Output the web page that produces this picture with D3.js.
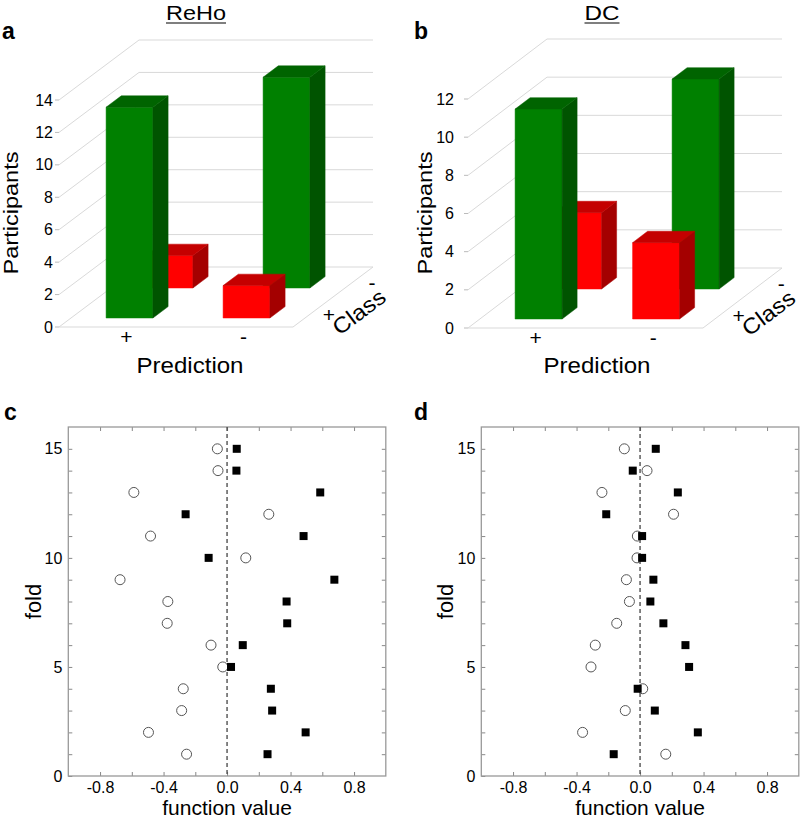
<!DOCTYPE html>
<html>
<head>
<meta charset="utf-8">
<script src="https://cdn.jsdelivr.net/npm/d3@7"></script>
<style>
  body { margin: 0; background: #fff; }
  svg { font-family: "Liberation Sans", Arial, sans-serif; }
</style>
</head>
<body>
<svg id="drawing_region" width="800" height="821"></svg>
<script>
// ---- data ----
const predictionLabels = ['+', '-'];
const classLabels = ['+', '-'];
// participants per prediction (+, -) for each true class
const rehoClassPos = [13, 2];
const rehoClassNeg = [2, 13];
const dcClassPos = [11, 4];
const dcClassNeg = [4, 11];
const rehoTicks = [0, 2, 4, 6, 8, 10, 12, 14];
const dcTicks = [0, 2, 4, 6, 8, 10, 12];

const folds = [1, 2, 3, 4, 5, 6, 7, 8, 9, 10, 11, 12, 13, 14, 15];
const rehoCircle = [-0.255, -0.495, -0.286, -0.276, -0.027, -0.101, -0.377, -0.373, -0.674, 0.118, -0.482, 0.263, -0.587, -0.057, -0.061];
const rehoSquare = [0.255, 0.495, 0.284, 0.276, 0.025, 0.099, 0.379, 0.375, 0.676, -0.116, 0.482, -0.261, 0.587, 0.059, 0.061];
const dcCircle = [0.162, -0.362, -0.093, 0.017, -0.309, -0.282, -0.147, -0.067, -0.086, -0.019, -0.017, 0.211, -0.240, 0.044, -0.099];
const dcSquare = [-0.166, 0.364, 0.093, -0.015, 0.309, 0.286, 0.147, 0.065, 0.084, 0.013, 0.013, -0.213, 0.238, -0.046, 0.099];
const xTickValues = [-0.8, -0.6, -0.4, -0.2, 0, 0.2, 0.4, 0.6, 0.8];
const xTickLabels = [-0.8, -0.4, 0, 0.4, 0.8];
const yTickValues = [1, 2, 3, 4, 5, 6, 7, 8, 9, 10, 11, 12, 13, 14, 15];
const yTickLabels = [0, 5, 10, 15];

const svg = d3.select('#drawing_region');

class Bar3D {
    constructor(config, rows) {
        this.config = config;
        this.rows = rows;   // rows[classIndex][predictionIndex]
        this.init();
        this.render();
    }

    init() {
        let self = this;
        let c = self.config;
        self.g = svg.append('g');
        self.xs = d3.scaleLinear().domain([0, 2]).range([c.left, c.left + c.width]);
        self.ys = d3.scaleLinear().domain([0, c.yMax]).range([c.bottom, c.top]);
        self.ds = d3.scaleLinear().domain([0, 2]).range([0, 1]);
        self.proj = (u, d, v) => [self.xs(u) + self.ds(d) * c.dx, self.ys(v) + self.ds(d) * c.dy];
    }

    render() {
        let self = this;
        let c = self.config;
        let p = self.proj;
        let grid = self.g.append('g').attr('stroke', '#d9d9d9').attr('stroke-width', 1).attr('fill', 'none');

        c.ticks.forEach(t => {
            grid.append('polyline')
                .attr('points', [p(0, 0, t), p(0, 2, t), p(2, 2, t)].map(q => q.join(',')).join(' '));
        });
        grid.append('polyline')
            .attr('points', [p(0, 0, 0), p(2, 0, 0), p(2, 2, 0)].map(q => q.join(',')).join(' '));

        // tick marks + labels
        self.g.selectAll('.tk').data(c.ticks).enter().append('line')
            .attr('x1', self.xs(0) - 4).attr('x2', self.xs(0))
            .attr('y1', d => self.ys(d)).attr('y2', d => self.ys(d))
            .attr('stroke', '#bbb');
        self.g.selectAll('.tl').data(c.ticks).enter().append('text')
            .attr('x', self.xs(0) - c.labelGap)
            .attr('y', d => self.ys(d))
            .attr('dy', '0.35em')
            .attr('text-anchor', 'end')
            .attr('font-size', 16)
            .text(d => d);

        // bars: back row first
        let faces = [];
        [1, 0].forEach(j => {
            [0, 1].forEach(i => {
                let v = self.rows[j][i];
                let u0 = i + 0.3, u1 = i + 0.7, d0 = j + 0.3, d1 = j + 0.68;
                let col = (i === j) ? c.green : c.red;
                faces.push({ pts: [p(u0, d0, 0), p(u1, d0, 0), p(u1, d0, v), p(u0, d0, v)], fill: col[0] });
                faces.push({ pts: [p(u1, d0, 0), p(u1, d1, 0), p(u1, d1, v), p(u1, d0, v)], fill: col[1] });
                faces.push({ pts: [p(u0, d0, v), p(u1, d0, v), p(u1, d1, v), p(u0, d1, v)], fill: col[2] });
            });
        });
        self.g.selectAll('.face').data(faces).enter().append('polygon')
            .attr('points', d => d.pts.map(q => q.join(',')).join(' '))
            .attr('fill', d => d.fill)
            .attr('stroke', d => d.fill)
            .attr('stroke-width', 0.5);

        // prediction labels
        predictionLabels.forEach((lab, i) => {
            self.g.append('text')
                .attr('x', self.xs(i + 0.5) + 9).attr('y', c.bottom + 17)
                .attr('text-anchor', 'middle').attr('font-size', 21)
                .text(lab);
        });
        // class labels
        classLabels.forEach((lab, j) => {
            let q = p(2, j + 0.5, 0);
            self.g.append('text')
                .attr('x', q[0] + 16 + j * 3).attr('y', q[1] + 10 - j * 2)
                .attr('text-anchor', 'middle').attr('font-size', 21)
                .text(lab);
        });
        let qc = p(2, 1, 0);
        self.g.append('text')
            .attr('transform', `translate(${qc[0] + 26},${qc[1] + 15}) rotate(-37)`)
            .attr('text-anchor', 'middle').attr('dominant-baseline', 'central')
            .attr('font-size', 22)
            .attr('textLength', 60).attr('lengthAdjust', 'spacingAndGlyphs')
            .text('Class');

        self.g.append('text')
            .attr('x', c.predX).attr('y', 373)
            .attr('text-anchor', 'middle').attr('font-size', 22)
            .attr('textLength', 107).attr('lengthAdjust', 'spacingAndGlyphs')
            .text('Prediction');
        self.g.append('text')
            .attr('transform', `translate(${c.partX},213) rotate(-90)`)
            .attr('text-anchor', 'middle')
            .attr('font-size', 21)
            .attr('textLength', 123).attr('lengthAdjust', 'spacingAndGlyphs')
            .text('Participants');

        self.g.append('text')
            .attr('x', c.titleX).attr('y', 20)
            .attr('text-anchor', 'middle').attr('font-size', 21)
            .attr('textLength', c.titleLen).attr('lengthAdjust', 'spacingAndGlyphs')
            .text(c.title);
        self.g.append('line')
            .attr('x1', c.titleX - c.titleLen / 2).attr('x2', c.titleX + c.titleLen / 2)
            .attr('y1', 23).attr('y2', 23)
            .attr('stroke', '#000').attr('stroke-width', 1.2);
        self.g.append('text')
            .attr('x', c.letterX).attr('y', 39)
            .attr('font-size', 23).attr('font-weight', 'bold')
            .text(c.letter);
    }
}

class FoldPlot {
    constructor(config, circles, squares) {
        this.config = config;
        this.circles = circles;
        this.squares = squares;
        this.init();
        this.render();
    }

    init() {
        let self = this;
        let c = self.config;
        self.g = svg.append('g');
        self.xs = d3.scaleLinear().domain([-1, 1]).range([c.left, c.right]);
        self.ys = d3.scaleLinear().domain([0, 16]).range([c.bottom, c.top]);
    }

    render() {
        let self = this;
        let c = self.config;
        let fmt = d => xTickLabels.some(t => Math.abs(t - d) < 1e-9) ? d3.format('.1f')(d).replace('\u2212', '-') : '';
        let yfmt = d => yTickLabels.includes(d) ? d : '';

        let axes = [
            { ax: d3.axisBottom(self.xs).tickValues(xTickValues).tickFormat(fmt), t: `translate(0,${c.bottom})` },
            { ax: d3.axisTop(self.xs).tickValues(xTickValues).tickFormat(''), t: `translate(0,${c.top})` },
            { ax: d3.axisLeft(self.ys).tickValues([0].concat(yTickValues)).tickFormat(yfmt), t: `translate(${c.left},0)` },
            { ax: d3.axisRight(self.ys).tickValues(yTickValues).tickFormat(''), t: `translate(${c.right},0)` }
        ];
        axes.forEach(a => {
            let ag = self.g.append('g').attr('transform', a.t)
                .call(a.ax.tickSizeInner(-4).tickSizeOuter(0).tickPadding(6));
            ag.select('.domain').remove();
            ag.selectAll('line').attr('stroke', '#888');
            ag.selectAll('text').attr('font-size', 16).attr('fill', '#000')
                .style('font-family', '"Liberation Sans", Arial, sans-serif');
        });

        self.g.append('rect')
            .attr('x', c.left).attr('y', c.top)
            .attr('width', c.right - c.left).attr('height', c.bottom - c.top)
            .attr('fill', 'none').attr('stroke', '#999').attr('stroke-width', 1.3);

        self.g.append('line')
            .attr('x1', self.xs(0)).attr('x2', self.xs(0))
            .attr('y1', c.top).attr('y2', c.bottom)
            .attr('stroke', '#444').attr('stroke-width', 1.3)
            .attr('stroke-dasharray', '4,3');

        self.g.selectAll('.circ').data(folds).enter().append('circle')
            .attr('cx', (d, i) => self.xs(self.circles[i]))
            .attr('cy', d => self.ys(d))
            .attr('r', 5)
            .attr('fill', '#fff').attr('stroke', '#555').attr('stroke-width', 1);
        self.g.selectAll('.sq').data(folds).enter().append('rect')
            .attr('x', (d, i) => self.xs(self.squares[i]) - 4)
            .attr('y', d => self.ys(d) - 4)
            .attr('width', 8).attr('height', 8)
            .attr('fill', '#000');

        self.g.append('text')
            .attr('x', (c.left + c.right) / 2).attr('y', 815)
            .attr('text-anchor', 'middle').attr('font-size', 21)
            .text('function value');
        self.g.append('text')
            .attr('transform', `translate(${c.foldX},${(c.top + c.bottom) / 2}) rotate(-90)`)
            .attr('text-anchor', 'middle').attr('dominant-baseline', 'central')
            .attr('font-size', 22)
            .text('fold');
        self.g.append('text')
            .attr('x', c.letterX).attr('y', 420)
            .attr('font-size', 23).attr('font-weight', 'bold')
            .text(c.letter);
    }
}

const green = ['#008000', '#005400', '#006400'];
const red = ['#ff0000', '#a40000', '#c40000'];

new Bar3D({ left: 59, width: 234, bottom: 327, top: 100, yMax: 14, dx: 80, dy: -60,
    ticks: rehoTicks, labelGap: 6, green: green, red: red,
    predX: 190, partX: 18, titleX: 196, titleLen: 60, title: 'ReHo', letter: 'a', letterX: 2 },
    [rehoClassPos, rehoClassNeg]);

new Bar3D({ left: 468, width: 235, bottom: 328, top: 99, yMax: 12, dx: 79, dy: -60,
    ticks: dcTicks, labelGap: 14, green: green, red: red,
    predX: 597, partX: 432, titleX: 602, titleLen: 35, title: 'DC', letter: 'b', letterX: 414 },
    [dcClassPos, dcClassNeg]);

new FoldPlot({ left: 68.3, right: 385.8, top: 427, bottom: 776, foldX: 33, letter: 'c', letterX: 4 },
    rehoCircle, rehoSquare);

new FoldPlot({ left: 481.3, right: 798.8, top: 427, bottom: 776, foldX: 445, letter: 'd', letterX: 414 },
    dcCircle, dcSquare);
</script>
</body>
</html>
